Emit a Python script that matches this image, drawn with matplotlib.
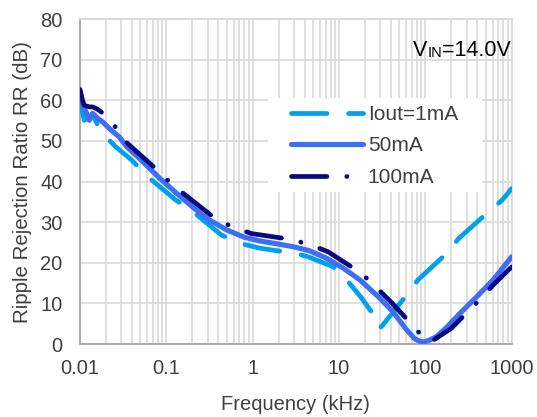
import matplotlib
matplotlib.use("Agg")
import matplotlib.pyplot as plt
from matplotlib.patches import Rectangle
from matplotlib.ticker import LogLocator, FixedLocator, NullFormatter

plt.rcParams['font.family'] = ['Liberation Sans', 'DejaVu Sans']

# Iout = 1mA
f_1ma = [0.01, 0.0107, 0.0112, 0.0125, 0.014, 0.016, 0.0195, 0.0261, 0.0397,
         0.058, 0.126, 0.187, 0.437, 0.71, 1.21, 1.89, 3.2, 4.5, 8.6, 12.8,
         18.0, 23.6, 27.0, 29.5, 31.0, 40.0, 60.8, 82.0, 176.0, 243.0, 540.0,
         770.0, 1000.0]
rr_1ma = [58.8, 56.8, 55.1, 55.8, 56.4, 54.0, 51.2, 48.5, 45.3,
          41.6, 35.6, 33.2, 26.8, 24.8, 23.6, 23.0, 22.3, 21.4, 19.0, 15.3,
          11.5, 8.0, 5.3, 3.8, 4.3, 7.2, 12.1, 15.8, 22.3, 26.0, 32.6,
          35.4, 38.3]

# Iout = 50mA
f_50ma = [0.01, 0.0107, 0.0117, 0.0128, 0.014, 0.016, 0.0183, 0.0218, 0.0285,
          0.0347, 0.05, 0.084, 0.13, 0.205, 0.3, 0.5, 0.8, 1.2, 2.0, 2.9,
          4.5, 7.2, 11.0, 17.4, 28.0, 42.0, 60.0, 75.0, 85.0, 95.0, 110.0,
          134.0, 180.0, 250.0, 400.0, 608.0, 1000.0]
rr_50ma = [60.5, 59.0, 57.2, 55.1, 56.8, 55.6, 54.7, 53.1, 51.0,
           48.6, 45.5, 40.8, 37.2, 33.6, 30.8, 28.1, 26.3, 25.4, 24.6, 24.0,
           23.0, 21.1, 18.8, 15.8, 11.8, 8.0, 3.6, 1.3, 0.7, 0.5, 0.9,
           1.8, 4.3, 7.5, 11.8, 15.8, 21.5]

# Iout = 100mA
f_100ma = [0.01, 0.0107, 0.0112, 0.0128, 0.014, 0.016, 0.0175, 0.0243, 0.033,
           0.0675, 0.101, 0.157, 0.348, 0.567, 0.97, 2.7, 4.6, 7.5, 18.2,
           26.8, 40.6, 80.0, 100.0, 125.0, 200.0, 404.0, 595.0, 870.0, 1000.0]
rr_100ma = [62.7, 60.0, 58.8, 58.4, 58.4, 57.8, 57.2, 54.2, 50.0,
            44.1, 40.5, 37.1, 31.3, 28.9, 27.2, 25.8, 24.5, 22.7, 17.4,
            14.0, 10.2, 3.4, 0.9, 1.0, 3.9, 10.4, 14.3, 17.8, 19.0]

text_c = '#404040'
grid_c = '#D9D9D9'

fig = plt.figure(figsize=(5.37, 4.17), dpi=100)
ax = fig.add_axes([0.149, 0.175, 0.804, 0.779])

lw = 3.4
ax.plot(f_1ma, rr_1ma, color='#00A0EC', lw=lw, dashes=(7.5, 4.6),
        dash_capstyle='round', label='Iout=1mA', zorder=3)
ax.plot(f_50ma, rr_50ma, color='#3D6EF5', lw=lw + 0.3,
        solid_capstyle='round', label='50mA', zorder=4)
ax.plot(f_100ma, rr_100ma, color='#0A0A80', lw=lw, dashes=(7.5, 4.2, 0.05, 4.2),
        dash_capstyle='round', label='100mA', zorder=5)

ax.set_xscale('log')
ax.set_xlim(0.01, 1000)
ax.set_ylim(0, 80)
ax.yaxis.set_major_locator(FixedLocator(range(0, 81, 10)))
ax.xaxis.set_major_locator(FixedLocator([0.01, 0.1, 1, 10, 100, 1000]))
ax.set_xticklabels(['0.01', '0.1', '1', '10', '100', '1000'])
ax.xaxis.set_minor_locator(LogLocator(base=10, subs=range(2, 10), numticks=20))
ax.xaxis.set_minor_formatter(NullFormatter())

ax.grid(True, which='both', axis='x', color=grid_c, lw=1.2, zorder=0)
ax.grid(True, which='major', axis='y', color=grid_c, lw=1.2, zorder=0)
ax.set_axisbelow(True)

ax.tick_params(which='both', length=0, labelsize=14.5, colors=text_c)
ax.tick_params(axis='y', pad=12.5)
ax.tick_params(axis='x', pad=11)
for s in ['left', 'bottom']:
    ax.spines[s].set_color('#A6A6A6')
    ax.spines[s].set_linewidth(1.3)
for s in ['top', 'right']:
    ax.spines[s].set_color(grid_c)
    ax.spines[s].set_linewidth(1.2)

ax.set_xlabel('Frequency (kHz)', fontsize=14.5, color=text_c, labelpad=12)
ax.set_ylabel('Ripple Rejection Ratio RR (dB)', fontsize=14.8, color=text_c, labelpad=6)

# white legend panel
ax.add_patch(Rectangle((0.435, 0.468), 0.495, 0.289, transform=ax.transAxes,
                       facecolor='white', edgecolor='none', zorder=2.5))
leg = ax.legend(loc='upper left', bbox_to_anchor=(0.488, 0.736), fontsize=15,
                frameon=False, handlelength=3.45, handletextpad=0.25,
                labelspacing=0.6, borderpad=0, borderaxespad=0)
for t in leg.get_texts():
    t.set_color(text_c)

big, small = 15.5, 10.5
d = 0.212 * (big - small)
t1 = ax.text(0.771, 0.886, 'V', transform=ax.transAxes, fontsize=big,
             color='black', va='baseline', ha='left')
t2 = ax.annotate('IN', xy=(1, 0), xycoords=t1, xytext=(0, d),
                 textcoords='offset points', fontsize=small, color='black',
                 va='bottom', ha='left')
ax.annotate('=14.0V', xy=(1, 0), xycoords=t2, xytext=(0, -d),
            textcoords='offset points', fontsize=big, color='black',
            va='bottom', ha='left')

fig.savefig('out.png', dpi=100)
